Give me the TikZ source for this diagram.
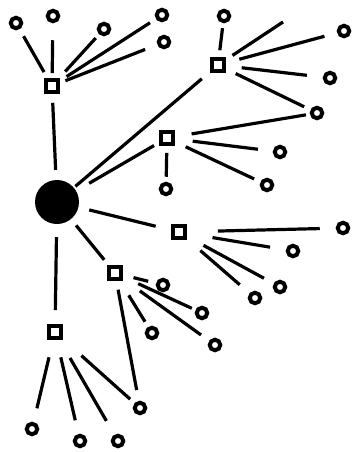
\documentclass[tikz,border=0pt]{standalone}
\usepackage{tikz}

\begin{document}
\begin{tikzpicture}[
  x=1pt,y=-1pt,
  core/.style={circle,fill=black,minimum size=44pt,inner sep=0pt},
  hub/.style={draw,line width=3.6pt,minimum size=12pt,inner sep=0pt},
  leaf/.style={circle,draw,line width=4pt,minimum size=10.5pt,inner sep=0pt},
  link/.style 2 args={line width=3.2pt,shorten <=#1pt,shorten >=#2pt}
]
\useasboundingbox (0,0) rectangle (352,452);
% centre and hubs
\node[core] (core) at (57,202) {};
\node[hub] (h1) at (52,86) {};
\node[hub] (h2) at (218,65) {};
\node[hub] (h3) at (167,138) {};
\node[hub] (h4) at (179,232) {};
\node[hub] (h5) at (115,273) {};
\node[hub] (h6) at (55,332) {};
% leaves
\node[leaf] (a1) at (16,23) {};
\node[leaf] (a2) at (53,16) {};
\node[leaf] (a3) at (104,29) {};
\node[leaf] (a4) at (162,15) {};
\node[leaf] (a5) at (164,42) {};
\node[leaf] (b1) at (224,16) {};
\coordinate (b0) at (283,22);
\node[leaf] (b2) at (344,31) {};
\node[leaf] (b3) at (330,78) {};
\node[leaf] (b4) at (317,113) {};
\node[leaf] (c1) at (166,189) {};
\node[leaf] (c2) at (280,152) {};
\node[leaf] (c3) at (267,185) {};
\node[leaf] (d1) at (343,228) {};
\node[leaf] (d2) at (293,251) {};
\node[leaf] (d3) at (280,287) {};
\node[leaf] (d4) at (255,298) {};
\node[leaf] (e1) at (163,285) {};
\node[leaf] (e2) at (202,313) {};
\node[leaf] (e3) at (215,345) {};
\node[leaf] (e4) at (152,333) {};
\node[leaf] (e5) at (140,408) {};
\node[leaf] (f1) at (32,429) {};
\node[leaf] (f2) at (80,441) {};
\node[leaf] (f3) at (118,441) {};
% centre to hubs
\draw[link={10}{9}] (core) -- (h1);
\draw[link={2}{11}] (core) -- (h2);
\draw[link={15}{6}] (core) -- (h3);
\draw[link={11}{16}] (core) -- (h4);
\draw[link={8}{7}] (core) -- (h5);
\draw[link={13}{14}] (core) -- (h6);
% hub 1
\draw[link={7}{8}] (h1) -- (a1);
\draw[link={5}{17}] (h1) -- (a2);
\draw[link={9}{5}] (h1) -- (a3);
\draw[link={8}{7}] (h1) -- (a4);
\draw[link={6}{13}] (h1) -- (a5);
% hub 2
\draw[link={7}{5}] (h2) -- (b1);
\draw[link={8}{0}] (h2) -- (b0);
\draw[link={14}{13}] (h2) -- (b2);
\draw[link={16}{16}] (h2) -- (b3);
\draw[link={11}{7}] (h2) -- (b4);
% hub 3
\draw[link={7}{5}] (h3) -- (c1);
\draw[link={17}{4}] (h3) -- (b4);
\draw[link={18}{15}] (h3) -- (c2);
\draw[link={12}{7}] (h3) -- (c3);
% hub 4
\draw[link={31}{16}] (h4) -- (d1);
\draw[link={26}{16}] (h4) -- (d2);
\draw[link={19}{11}] (h4) -- (d3);
\draw[link={18}{13}] (h4) -- (d4);
% hub 5
\draw[link={11}{8}] (h5) -- (e1);
\draw[link={17}{4}] (h5) -- (e2);
\draw[link={21}{10}] (h5) -- (e3);
\draw[link={17}{6}] (h5) -- (e4);
\draw[link={9}{11}] (h5) -- (e5);
% hub 6
\draw[link={18}{14}] (h6) -- (f1);
\draw[link={18}{14}] (h6) -- (f2);
\draw[link={21}{16}] (h6) -- (f3);
\draw[link={25}{6}] (h6) -- (e5);
\end{tikzpicture}
\end{document}
